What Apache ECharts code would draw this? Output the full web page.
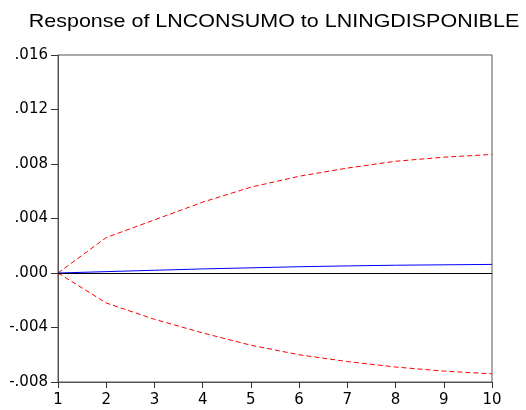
<!DOCTYPE html>
<html>
<head>
<meta charset="utf-8">
<script src="https://cdn.jsdelivr.net/npm/echarts@6/dist/echarts.min.js"></script>
<style>
  html, body { margin: 0; padding: 0; background: #fff; }
  #main { width: 526px; height: 410px; }
</style>
</head>
<body>
<div id="main"></div>
<script>
// periods and responses
var periods = [1, 2, 3, 4, 5, 6, 7, 8, 9, 10];
var response = [0, 0.0001, 0.0002, 0.0003, 0.00038, 0.00046, 0.00052, 0.00057, 0.0006, 0.00063];
var upperBand = [0, 0.0026, 0.0039, 0.0052, 0.0063, 0.0071, 0.0077, 0.0082, 0.0085, 0.0087];
var lowerBand = [0, -0.0022, -0.0034, -0.0044, -0.0053, -0.006, -0.0065, -0.0069, -0.0072, -0.0074];
var titleText = 'Response of LNCONSUMO to LNINGDISPONIBLE';

function pairs(ys) {
  return periods.map(function (p, i) { return [p, ys[i]]; });
}

// ".016", "-.004" style labels
function fmt(v) {
  var s = v.toFixed(3);
  return s.replace(/^(-?)0\./, '$1.');
}

var labelFont = 'DejaVu Sans, sans-serif';

var chart = echarts.init(document.getElementById('main'));
var option = {
  animation: false,
  // title drawn as graphic text so it can be stretched to the original's width
  graphic: [{
    type: 'text',
    x: 274,
    y: 22,
    scaleX: 1.13,
    style: {
      text: titleText,
      font: '19px "Liberation Sans", Arial, sans-serif',
      fill: '#000',
      align: 'center',
      verticalAlign: 'middle'
    }
  }],
  grid: {
    left: 58,
    right: 34,
    top: 55,
    bottom: 28,
    show: true,
    borderColor: '#555',
    borderWidth: 1,
    backgroundColor: '#fff'
  },
  xAxis: {
    type: 'value',
    min: 1,
    max: 10,
    interval: 1,
    axisLine: { show: true, onZero: false, lineStyle: { color: '#555' } },
    axisTick: { show: true, length: 6, lineStyle: { color: '#333' } },
    axisLabel: {
      color: '#000',
      fontFamily: labelFont,
      fontSize: 15,
      margin: 11
    },
    splitLine: { show: false }
  },
  yAxis: {
    type: 'value',
    min: -0.008,
    max: 0.016,
    interval: 0.004,
    axisLine: { show: true, lineStyle: { color: '#555' } },
    axisTick: { show: true, length: 7, lineStyle: { color: '#333' } },
    axisLabel: {
      color: '#000',
      fontFamily: labelFont,
      fontSize: 15,
      margin: 10,
      formatter: fmt
    },
    splitLine: { show: false }
  },
  series: [
    {
      name: 'upper',
      type: 'line',
      data: pairs(upperBand),
      showSymbol: false,
      lineStyle: { color: '#ff0000', width: 1, type: [5, 3] }
    },
    {
      name: 'lower',
      type: 'line',
      data: pairs(lowerBand),
      showSymbol: false,
      lineStyle: { color: '#ff0000', width: 1, type: [5, 3] }
    },
    {
      name: 'response',
      type: 'line',
      data: pairs(response),
      showSymbol: false,
      lineStyle: { color: '#0000ff', width: 1 },
      markLine: {
        silent: true,
        symbol: 'none',
        label: { show: false },
        lineStyle: { color: '#000', width: 1, type: 'solid' },
        data: [{ yAxis: 0 }]
      },
      z: 3
    }
  ]
};
chart.setOption(option);
</script>
</body>
</html>
